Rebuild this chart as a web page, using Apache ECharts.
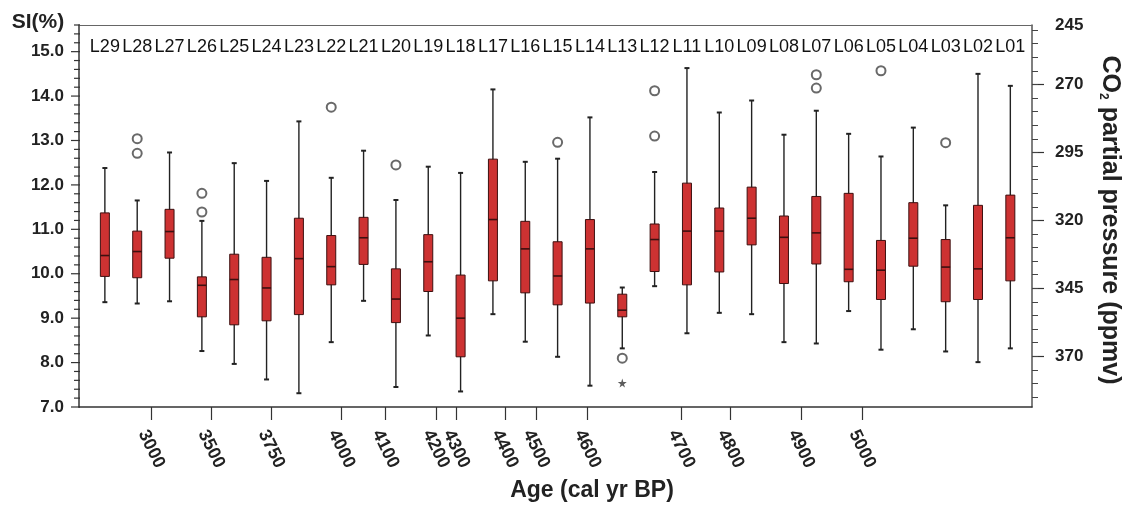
<!DOCTYPE html>
<html>
<head>
<meta charset="utf-8">
<script src="https://cdn.jsdelivr.net/npm/echarts@6.0.0/dist/echarts.min.js"></script>
<style>
html,body{margin:0;padding:0;background:#fff;}
#chart{width:1128px;height:505px;}
</style>
</head>
<body>
<div id="chart"></div>
<script>
// ---- data ----
const sampleLabels = ['L29','L28','L27','L26','L25','L24','L23','L22','L21','L20','L19','L18','L17','L16','L15','L14','L13','L12','L11','L10','L09','L08','L07','L06','L05','L04','L03','L02','L01'];
const whiskerLow = [9.36, 9.33, 9.38, 8.26, 7.97, 7.62, 7.31, 8.46, 9.39, 7.45, 8.61, 7.35, 9.09, 8.47, 8.13, 7.48, 8.32, 9.72, 8.66, 9.12, 9.09, 8.46, 8.43, 9.16, 8.29, 8.75, 8.25, 8.01, 8.32];
const quartile1  = [9.94, 9.91, 10.35, 9.03, 8.85, 8.94, 9.08, 9.75, 10.21, 8.90, 9.60, 8.13, 9.84, 9.57, 9.30, 9.34, 9.03, 10.05, 9.75, 10.04, 10.65, 9.78, 10.22, 9.82, 9.42, 10.17, 9.37, 9.42, 9.84];
const medians    = [10.41, 10.50, 10.95, 9.74, 9.87, 9.68, 10.34, 10.16, 10.81, 9.43, 10.27, 9.00, 11.22, 10.56, 9.95, 10.56, 9.18, 10.77, 10.96, 10.96, 11.25, 10.82, 10.92, 10.10, 10.08, 10.80, 10.15, 10.11, 10.81];
const quartile3  = [11.37, 10.96, 11.45, 9.93, 10.44, 10.37, 11.25, 10.86, 11.27, 10.11, 10.88, 9.97, 12.58, 11.18, 10.72, 11.22, 9.54, 11.12, 12.04, 11.48, 11.95, 11.30, 11.74, 11.81, 10.75, 11.60, 10.77, 11.54, 11.77];
const whiskerHigh= [12.38, 11.65, 12.73, 11.19, 12.49, 12.09, 13.43, 12.16, 12.77, 11.66, 12.41, 12.27, 14.15, 12.52, 12.59, 13.52, 9.69, 12.29, 14.63, 13.63, 13.90, 13.13, 13.67, 13.15, 12.64, 13.29, 11.54, 14.50, 14.23];
// outliers: [sample label, value]
const outlierCircles = [['L28',13.04],['L28',12.71],['L26',11.81],['L26',11.39],['L22',13.75],['L20',12.45],['L15',12.96],['L13',8.10],['L12',14.12],['L12',13.10],['L07',14.48],['L07',14.18],['L05',14.57],['L03',12.95]];
const outlierStars = [['L13',7.54]];
// age scale: age value and where it falls along the sample sequence (in sample-index units)
const ageTicks = [3000,3500,3750,4000,4100,4200,4300,4400,4500,4600,4700,4800,4900,5000];
const ageAtSample = [1.44,3.29,5.15,7.32,8.68,10.24,10.87,12.37,13.34,14.93,17.83,19.35,21.54,23.42];
const siTicks = [7,8,9,10,11,12,13,14,15];
const co2Ticks = [270,295,320,345,370];
const co2TopLabel = 245;

// ---- chart ----
const FONT = '"Liberation Sans", Arial, sans-serif';
const idx = l => sampleLabels.indexOf(l);
const boxData = sampleLabels.map((_, i) => [i, whiskerLow[i], quartile1[i], medians[i], quartile3[i], whiskerHigh[i]]);
const X_MIN = -0.8, X_MAX = 28.67;
const SI_MIN = 7, SI_MAX = 15.6;
const CO2_MIN = 248.1, CO2_MAX = 388.7;
const co2Minor = [];
for (let v = 250; v <= 385; v += 5) co2Minor.push(v);
const siMinor = [];
for (let k = 0; k <= 43; k++) siMinor.push(Math.round((SI_MIN + k * 0.2) * 10) / 10);
const leftTickData = siMinor.map(v => [X_MIN, v, siTicks.indexOf(v) >= 0 ? 8 : 5]);

function renderBox(params, api) {
  const x = api.value(0);
  const lo = api.coord([x, api.value(1)]);
  const q1 = api.coord([x, api.value(2)]);
  const md = api.coord([x, api.value(3)]);
  const q3 = api.coord([x, api.value(4)]);
  const hi = api.coord([x, api.value(5)]);
  const hw = 4.5, cw = 2.5;
  const line = (x1,y1,x2,y2,s,w) => ({type:'line', shape:{x1,y1,x2,y2}, style:{stroke:s, lineWidth:w}});
  return {type:'group', children:[
    line(hi[0],hi[1],lo[0],lo[1],'#222',1.4),
    line(hi[0]-cw,hi[1],hi[0]+cw,hi[1],'#222',2),
    line(lo[0]-cw,lo[1],lo[0]+cw,lo[1],'#222',2),
    {type:'rect', shape:{x:q3[0]-hw, y:q3[1], width:hw*2, height:q1[1]-q3[1]}, style:{fill:'#cd3232', stroke:'#3d1010', lineWidth:1}},
    line(md[0]-hw,md[1],md[0]+hw,md[1],'#3d1010',1.6)
  ]};
}
function renderLeftTick(params, api) {
  const p = api.coord([api.value(0), api.value(1)]);
  const len = api.value(2);
  return {type:'rect', shape:{x:p[0]-len, y:p[1]-0.6, width:len+1, height:1.2}, style:{fill:'#333'}};
}

const chart = echarts.init(document.getElementById('chart'), null, {renderer:'canvas'});
chart.setOption({
  backgroundColor:'#ffffff',
  animation:false,
  textStyle:{fontFamily:FONT},
  grid:{left:79, right:96, top:25, bottom:98, containLabel:false},
  xAxis:[
    {type:'value', position:'bottom', min:X_MIN, max:X_MAX,
     axisLine:{show:true, onZero:false, lineStyle:{color:'#333', width:1.5}},
     axisTick:{show:true, customValues:ageAtSample, length:13, lineStyle:{color:'#333', width:1.2}},
     axisLabel:{show:true, customValues:ageAtSample, rotate:-64, align:'center', verticalAlign:'middle', margin:42,
       fontSize:18, fontWeight:'bold', color:'#222', fontFamily:FONT,
       formatter:v => { let b=0; ageAtSample.forEach((p,i)=>{ if (Math.abs(p-v)<Math.abs(ageAtSample[b]-v)) b=i; }); return String(ageTicks[b]); }},
     splitLine:{show:false}},
    {type:'value', position:'top', min:X_MIN, max:X_MAX,
     axisLine:{show:true, onZero:false, lineStyle:{color:'#666', width:1.2}},
     axisTick:{show:false},
     axisLabel:{show:true, inside:true, customValues:sampleLabels.map((_,i)=>i), margin:13,
       fontSize:18, color:'#111', fontFamily:FONT,
       formatter:v => sampleLabels[Math.round(v)]},
     splitLine:{show:false}}
  ],
  yAxis:[
    {type:'value', position:'left', min:SI_MIN, max:SI_MAX,
     axisLine:{show:true, onZero:false, lineStyle:{color:'#333', width:1.5}},
     axisTick:{show:false},
     axisLabel:{show:true, customValues:siTicks, margin:15, fontSize:17, fontWeight:'bold', color:'#222', fontFamily:FONT,
       formatter:v => v.toFixed(1)},
     splitLine:{show:false}},
    {type:'value', position:'right', inverse:true, min:CO2_MIN, max:CO2_MAX,
     axisLine:{show:true, onZero:false, lineStyle:{color:'#555', width:1.5}},
     axisTick:{show:true, customValues:co2Ticks, length:12, lineStyle:{color:'#333', width:1.2}},
     axisLabel:{show:true, customValues:[CO2_MIN].concat(co2Ticks), margin:23, fontSize:17, fontWeight:'bold', color:'#222', fontFamily:FONT,
       formatter:v => (Math.abs(v-CO2_MIN)<0.01 ? String(co2TopLabel) : String(Math.round(v)))},
     splitLine:{show:false}},
    {type:'value', position:'right', inverse:true, min:CO2_MIN, max:CO2_MAX,
     axisLine:{show:false, onZero:false},
     axisTick:{show:true, customValues:co2Minor, length:6, lineStyle:{color:'#444', width:1}},
     axisLabel:{show:false}, splitLine:{show:false}}
  ],
  graphic:[
    {type:'text', x:38, y:22, style:{text:'SI(%)', font:'bold 21px ' + FONT, fill:'#222', textAlign:'center', textVerticalAlign:'middle'}},
    {type:'text', x:592, y:491, style:{text:'Age (cal yr BP)', font:'bold 23px ' + FONT, fill:'#222', textAlign:'center', textVerticalAlign:'middle'}},
    {type:'text', x:1110, y:220, rotation:-Math.PI/2,
     style:{text:'CO{sub|2} partial pressure (ppmv)', font:'bold 25px ' + FONT, fill:'#222', textAlign:'center', textVerticalAlign:'middle',
       rich:{sub:{fontSize:12, fontWeight:'bold', fontFamily:FONT, fill:'#222', verticalAlign:'bottom', padding:[10,0,0,0]}}}}
  ],
  series:[
    {type:'custom', name:'SI', xAxisIndex:0, yAxisIndex:0, renderItem:renderBox, data:boxData, encode:{x:0, y:[1,2,3,4,5]}, z:3},
    {type:'custom', name:'siAxisTicks', xAxisIndex:0, yAxisIndex:0, clip:false, silent:true, zlevel:1, z:10,
     renderItem:renderLeftTick, data:leftTickData, encode:{x:0, y:1}},
    {type:'scatter', xAxisIndex:0, yAxisIndex:0, symbol:'emptyCircle', symbolSize:9,
     itemStyle:{color:'#444', borderColor:'#444', borderWidth:1.3},
     data:outlierCircles.map(o => [idx(o[0]), o[1]]), z:4},
    {type:'scatter', xAxisIndex:0, yAxisIndex:0,
     symbol:'path://M50,0 L61,35 L98,35 L68,57 L79,91 L50,70 L21,91 L32,57 L2,35 L39,35 Z', symbolSize:9,
     itemStyle:{color:'#333'},
     data:outlierStars.map(o => [idx(o[0]), o[1]]), z:4}
  ]
});
</script>
</body>
</html>
